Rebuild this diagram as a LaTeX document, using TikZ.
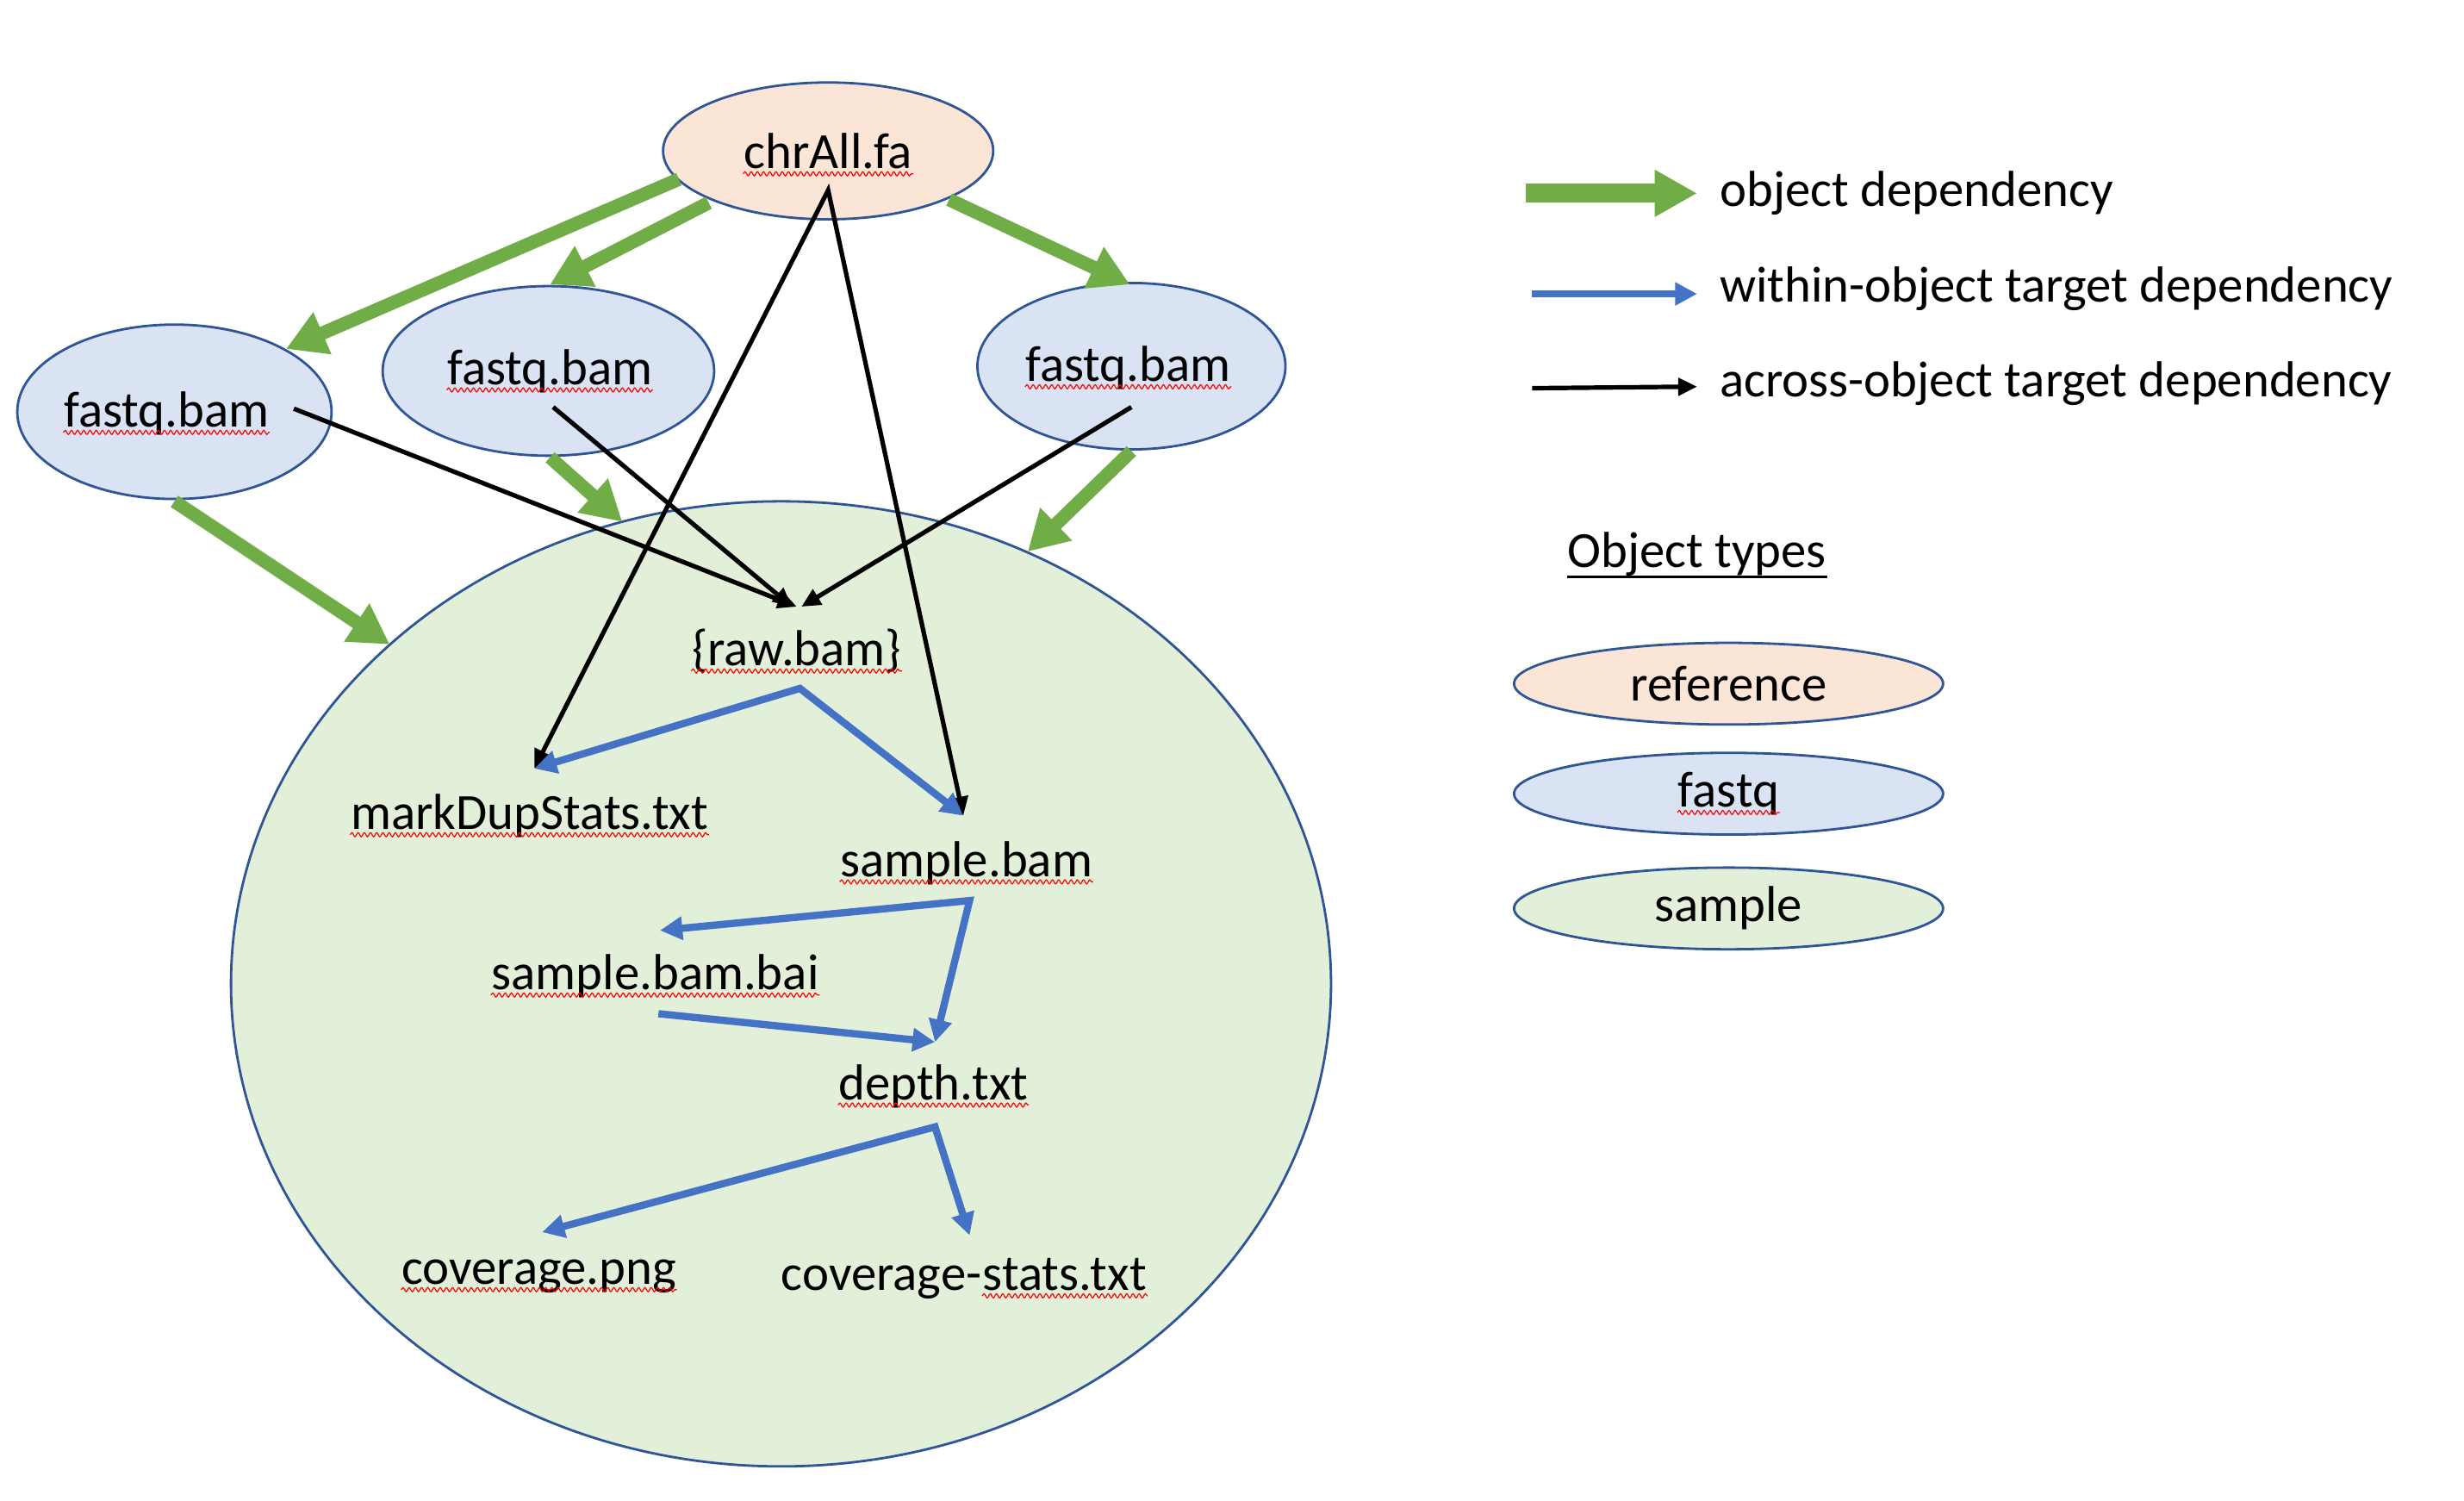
\documentclass[tikz,border=0pt]{standalone}
\usepackage{fontspec}
\setmainfont{Carlito}
\usetikzlibrary{arrows.meta,calc,shapes.geometric,decorations.pathmorphing}
\definecolor{garrC}{HTML}{70AD47}
\definecolor{barrC}{HTML}{4472C4}
\definecolor{edgeC}{HTML}{2F5597}
\definecolor{refF}{HTML}{FBE5D6}
\definecolor{fqF}{HTML}{DAE3F3}
\definecolor{smF}{HTML}{E2F0D9}
\newcommand\fs{\fontsize{14.7}{18}\selectfont}
\begin{document}
\begin{tikzpicture}[x=0.456pt,y=-0.456pt,
  obj/.style={ellipse, draw=edgeC, line width=0.7pt, inner sep=0pt},
  txt/.style={font=\fs, inner sep=0pt, text=black},
  garr/.style={draw=garrC, line width=3.9pt, -{Triangle[length=11.5pt,width=12.5pt]}},
  barr/.style={draw=barrC, line width=2.1pt, -{Triangle[length=6.5pt,width=6.5pt]}},
  karr/.style={draw=black, line width=1.3pt, -{Triangle[length=5.5pt,width=5pt]}},
  spell/.style={draw=red, line width=0.3pt, decorate, decoration={snake, amplitude=0.6pt, segment length=1.8pt}},
]
\useasboundingbox (0,0) rectangle (1568,955);
\fill[white] (0,0) rectangle (1568,955);

% object ellipses
\node[obj, fill=smF, minimum width=319.2pt, minimum height=280pt] (big) at (497,626) {};
\node[obj, fill=fqF, minimum width=91.2pt, minimum height=50.6pt] (fq1) at (111,262) {};
\node[obj, fill=fqF, minimum width=96.2pt, minimum height=49.2pt] (fq2) at (349,236) {};
\node[obj, fill=fqF, minimum width=89.4pt, minimum height=48.3pt] (fq3) at (720,233) {};
\node[obj, fill=refF, minimum width=95.8pt, minimum height=39.7pt] (chr) at (527,96) {};

% texts
\node[txt] (chrT) at (527,96) {chrAll.fa};
\node[txt] (fq1T) at (106,263) {fastq.bam};
\node[txt] (fq2T) at (350,236) {fastq.bam};
\node[txt] (fq3T) at (718,234) {fastq.bam};
\node[txt] (raw) at (507,414) {\{raw.bam\}};
\node[txt] (md) at (337,519) {markDupStats.txt};
\node[txt] (sb) at (615,549) {sample.bam};
\node[txt] (sbb) at (417,621) {sample.bam.bai};
\node[txt] (dep) at (594,691) {depth.txt};
\node[txt] (cpng) at (343,812) {coverage.png};
\node[txt, anchor=base east] (cstA) at (625,821) {coverage-};
\node[txt, anchor=base west] (cstB) at (cstA.base east) {stats.txt};

% arrow end points
\coordinate (g1s) at (432,114); \coordinate (g1e) at (182,222);
\coordinate (g2s) at (451,129); \coordinate (g2e) at (350,181);
\coordinate (g3s) at (604,127); \coordinate (g3e) at (719,181);
\coordinate (g4s) at (111,319); \coordinate (g4e) at (248,410);
\coordinate (g5s) at (350,291); \coordinate (g5e) at (396,332);
\coordinate (g6s) at (720,287); \coordinate (g6e) at (654,351);

\coordinate (k1s) at (187,260); \coordinate (k2s) at (352,259); \coordinate (k3s) at (720,259);
\coordinate (rawIn1) at (507,386); \coordinate (rawIn2) at (504,386); \coordinate (rawIn3) at (510,386);
\coordinate (chrOut) at (527,121);
\coordinate (mdIn) at (340,489);
\coordinate (sbIn) at (613,519);
\coordinate (rawOut) at (509,438);
\coordinate (sbOut) at (617,573);
\coordinate (sbbIn) at (420,592);
\coordinate (depIn) at (595,663);
\coordinate (sbbOut) at (419,645);
\coordinate (depOut) at (595,717);
\coordinate (cpngIn) at (345,784);
\coordinate (cstIn) at (617,786);

% green object dependencies
\draw[garr] (g1s) -- (g1e);
\draw[garr] (g2s) -- (g2e);
\draw[garr] (g3s) -- (g3e);
\draw[garr] (g4s) -- (g4e);
\draw[garr] (g5s) -- (g5e);
\draw[garr] (g6s) -- (g6e);

% black across-object
\draw[karr] (k1s) -- (rawIn1);
\draw[karr] (k2s) -- (rawIn2);
\draw[karr] (k3s) -- (rawIn3);
\draw[karr, {Triangle[length=5.5pt,width=5pt]}-{Triangle[length=5.5pt,width=5pt]}] (mdIn) -- (chrOut) -- (sbIn);

% blue within-object
\draw[barr, {Triangle[length=6.5pt,width=6.5pt]}-{Triangle[length=6.5pt,width=6.5pt]}] (mdIn) -- (rawOut) -- (sbIn);
\draw[barr, {Triangle[length=6.5pt,width=6.5pt]}-{Triangle[length=6.5pt,width=6.5pt]}] (sbbIn) -- (sbOut) -- (depIn);
\draw[barr] (sbbOut) -- (depIn);
\draw[barr, {Triangle[length=6.5pt,width=6.5pt]}-{Triangle[length=6.5pt,width=6.5pt]}] (cpngIn) -- (depOut) -- (cstIn);

% spelling marks
\foreach \n in {chrT,fq1T,fq2T,fq3T,raw,md,sb,sbb,dep,cpng,cstB}
  \draw[spell] ([yshift=-1.6pt]\n.base west) -- ([yshift=-1.6pt]\n.base east);

% legend
\coordinate (lg1s) at (971,123); \coordinate (lg1e) at (1080,123);
\coordinate (lg2s) at (975,187); \coordinate (lg2e) at (1080,187);
\coordinate (lg3s) at (975,247); \coordinate (lg3e) at (1080,246);
\draw[draw=garrC, line width=5.5pt, -{Triangle[length=12.3pt,width=12.8pt]}] (lg1s) -- (lg1e);
\draw[draw=barrC, line width=2.1pt, -{Triangle[length=6.4pt,width=6.4pt]}] (lg2s) -- (lg2e);
\draw[draw=black, line width=1.3pt, -{Triangle[length=5.5pt,width=5pt]}] (lg3s) -- (lg3e);
\node[txt, anchor=west] (l1) at (1094,123) {object dependency};
\node[txt, anchor=west] (l2) at (1094,184) {within-object target dependency};
\node[txt, anchor=west] (l3) at (1094,244) {across-object target dependency};

\node[txt, anchor=base west] (ot) at (997,361) {Object types};
\draw[line width=0.7pt] ([yshift=-2.7pt]ot.base west) -- ([yshift=-2.7pt]ot.base east);

\node[obj, fill=refF, minimum width=124.5pt, minimum height=23.7pt] (lref) at (1100,435) {};
\node[obj, fill=fqF, minimum width=124.5pt, minimum height=23.7pt] (lfq) at (1100,505) {};
\node[obj, fill=smF, minimum width=124.5pt, minimum height=23.7pt] (lsm) at (1100,578) {};
\node[txt] (lrefT) at (1100,435) {reference};
\node[txt] (lfqT) at (1100,505) {fastq};
\node[txt] (lsmT) at (1100,578) {sample};
\draw[spell] ([yshift=-1.6pt]lfqT.base west) -- ([yshift=-1.6pt]lfqT.base east);
\end{tikzpicture}
\end{document}
